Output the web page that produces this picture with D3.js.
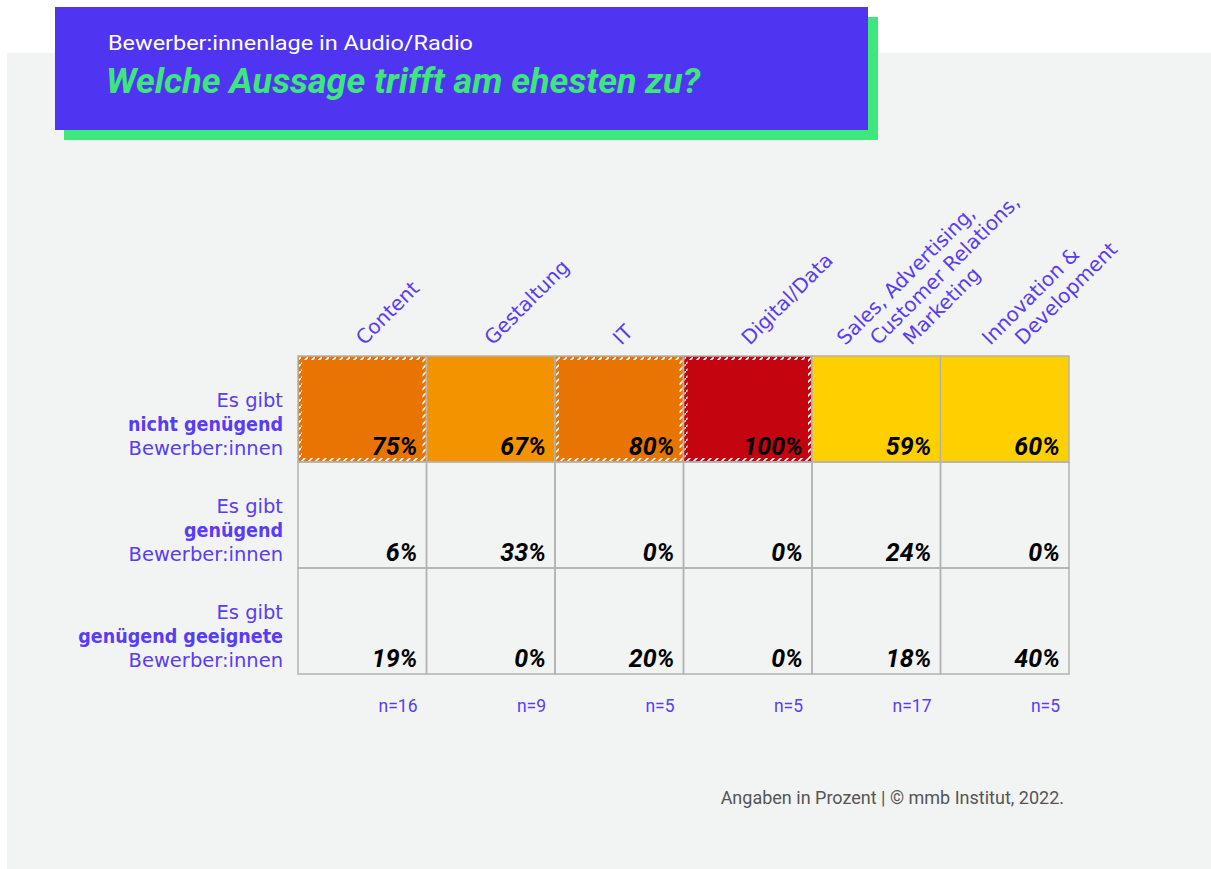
<!DOCTYPE html>
<html>
<head>
<meta charset="utf-8">
<script src="https://cdn.jsdelivr.net/npm/d3@7"></script>
<style>
  html, body { margin: 0; padding: 0; background: #ffffff; }
  svg { display: block; }
</style>
</head>
<body>
<svg id="chart" width="1211" height="869"></svg>
<script>
// ---- data ----
const categories = ["Content", "Gestaltung", "IT", "Digital/Data",
  "Sales, Advertising, Customer Relations, Marketing", "Innovation & Development"];
const categoryLines = [["Content"], ["Gestaltung"], ["IT"], ["Digital/Data"],
  ["Sales, Advertising,", "Customer Relations,", "Marketing"], ["Innovation &", "Development"]];
const rowKeys = ["nicht", "genuegend", "geeignet"];
const rowLabels = [
  ["Es gibt", "nicht genügend", "Bewerber:innen"],
  ["Es gibt", "genügend", "Bewerber:innen"],
  ["Es gibt", "genügend geeignete", "Bewerber:innen"]
];
const notEnough = [75, 67, 80, 100, 59, 60];
const enough = [6, 33, 0, 0, 24, 0];
const suitable = [19, 0, 20, 0, 18, 40];
const sampleSizes = [16, 9, 5, 5, 17, 5];
const hatched = [true, false, true, true, false, false];
const subtitle = "Bewerber:innenlage in Audio/Radio";
const title = "Welche Aussage trifft am ehesten zu?";
const footer = "Angaben in Prozent | © mmb Institut, 2022.";

const seriesValues = [notEnough, enough, suitable];

// ---- styles ----
const purple = "#5a3cf2";
const gridColor = "#b3b3b3";
const labelFont = "'DejaVu Sans', 'Noto Sans', sans-serif";
const heat = d3.scaleThreshold()
  .domain([62, 70, 90])
  .range(["#ffd000", "#f49300", "#e87503", "#c4040f"]);

const svg = d3.select("#chart");

// hatch pattern for the flagged cells' border
const defs = svg.append("defs");
const pat = defs.append("pattern")
  .attr("id", "hatch")
  .attr("patternUnits", "userSpaceOnUse")
  .attr("width", 7).attr("height", 7);
pat.append("path")
  .attr("d", "M-1,8 L8,-1")
  .attr("stroke", "#ffffff")
  .attr("stroke-width", 1.6);

// panel background
svg.append("rect").attr("x", 7).attr("y", 53).attr("width", 1204).attr("height", 816)
  .attr("fill", "#f2f3f3");

// header box with shadow
svg.append("rect").attr("x", 64).attr("y", 17).attr("width", 814).attr("height", 123)
  .attr("fill", "#3de77b");
svg.append("rect").attr("x", 55).attr("y", 7).attr("width", 813).attr("height", 123)
  .attr("fill", "#4f35f2");
svg.append("text").attr("x", 108).attr("y", 50)
  .attr("fill", "#ffffff")
  .style("font-family", "Roboto, 'Noto Sans', sans-serif")
  .style("font-size", "21px")
  .attr("textLength", 365).attr("lengthAdjust", "spacingAndGlyphs")
  .text(subtitle);
svg.append("text").attr("x", 106).attr("y", 93)
  .attr("fill", "#3de77b")
  .style("font-family", "Roboto, 'DejaVu Sans', sans-serif")
  .style("font-size", "35px").style("font-weight", 700).style("font-style", "italic")
  .attr("textLength", 594).attr("lengthAdjust", "spacingAndGlyphs")
  .text(title);

// ---- scales ----
const x = d3.scaleBand().domain(categories).range([298, 1069]);
const y = d3.scaleBand().domain(rowKeys).range([356, 674]);

// cells
const cells = [];
rowKeys.forEach((rk, ri) => {
  categories.forEach((c, ci) => {
    cells.push({ row: rk, ri, cat: c, ci, value: seriesValues[ri][ci] });
  });
});

const g = svg.append("g");
g.selectAll("rect.cell").data(cells).join("rect")
  .attr("class", "cell")
  .attr("x", d => x(d.cat)).attr("y", d => y(d.row))
  .attr("width", x.bandwidth()).attr("height", y.bandwidth())
  .attr("fill", d => d.ri === 0 ? heat(d.value) : "none")
  .attr("stroke", gridColor).attr("stroke-width", 1.5);

// hatched border for flagged cells
g.selectAll("rect.hatch").data(cells.filter(d => d.ri === 0 && hatched[d.ci])).join("rect")
  .attr("class", "hatch")
  .attr("x", d => x(d.cat) + 2.5).attr("y", d => y(d.row) + 2.5)
  .attr("width", x.bandwidth() - 5).attr("height", y.bandwidth() - 5)
  .attr("fill", "none")
  .attr("stroke", "url(#hatch)").attr("stroke-width", 3);

// value labels
g.selectAll("text.val").data(cells).join("text")
  .attr("class", "val")
  .attr("x", d => x(d.cat) + x.bandwidth() - 9)
  .attr("y", d => y(d.row) + y.bandwidth() - 7)
  .attr("text-anchor", "end")
  .attr("fill", "#000000")
  .style("font-family", "Roboto, 'DejaVu Sans', sans-serif")
  .style("font-size", "25px").style("font-weight", 700).style("font-style", "italic")
  .text(d => d.value + "%");

// row labels, one text element per line; the bold line is narrowed slightly
rowKeys.forEach((rk, ri) => {
  const bottom = y(rk) + y.bandwidth() - 7;
  rowLabels[ri].forEach((line, li) => {
    const bold = li === 1;
    const t = svg.append("text")
      .attr("x", 283)
      .attr("y", bottom - (2 - li) * 24)
      .attr("text-anchor", "end")
      .attr("fill", purple)
      .style("font-family", labelFont)
      .style("font-size", "19.5px")
      .style("font-weight", bold ? 700 : 400)
      .text(line);
    if (bold) {
      const len = t.node().getComputedTextLength();
      t.attr("textLength", len * 0.9).attr("lengthAdjust", "spacingAndGlyphs");
    }
  });
});

// column labels, rotated
categories.forEach((c, ci) => {
  const lines = categoryLines[ci];
  const cx = x(c) + x.bandwidth() / 2;
  const x0 = cx + 2 - (lines.length - 1) * 16.5;
  lines.forEach((line, li) => {
    const px = x0 + li * 33, py = 346;
    svg.append("text")
      .attr("transform", `translate(${px},${py}) rotate(-45)`)
      .attr("fill", purple)
      .style("font-family", labelFont)
      .style("font-size", "20px")
      .text(line);
  });
});

// sample sizes
svg.selectAll("text.n").data(categories).join("text")
  .attr("class", "n")
  .attr("x", d => x(d) + x.bandwidth() - 9)
  .attr("y", 712)
  .attr("text-anchor", "end")
  .attr("fill", purple)
  .style("font-family", "Roboto, sans-serif")
  .style("font-size", "17.5px")
  .text((d, i) => "n=" + sampleSizes[i]);

// footer
svg.append("text").attr("x", 1064).attr("y", 804)
  .attr("text-anchor", "end")
  .attr("fill", "#555555")
  .style("font-family", "Roboto, sans-serif")
  .style("font-size", "18px")
  .text(footer);
</script>
</body>
</html>
